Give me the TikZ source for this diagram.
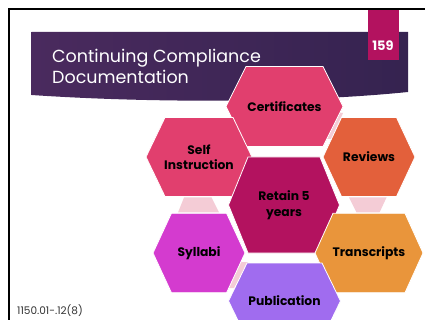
\documentclass[tikz,border=0pt]{standalone}
\usepackage{fontspec}
\setmainfont{Poppins}
\definecolor{cPink}{HTML}{E13F6E}
\definecolor{cMag}{HTML}{B3125F}
\definecolor{cRed}{HTML}{E3603B}
\definecolor{cOra}{HTML}{E9953B}
\definecolor{cVio}{HTML}{D43BCF}
\definecolor{cLav}{HTML}{A06CEF}
\definecolor{cPale}{HTML}{F4CCD6}
\definecolor{bnL}{HTML}{4A2A5E}
\definecolor{bnM}{HTML}{6A2C68}
\definecolor{bnR}{HTML}{352350}
\newcommand{\hexcell}[8]{%
  % #1 name, #2 cx, #3 cy, #4 half width, #5 half height, #6 inset, #7 colour, #8 text
  \fill[#7,draw=white,line width=0.8pt]
    ({#2-#4},#3) -- ({#2-#4+#6},{#3-#5}) -- ({#2+#4-#6},{#3-#5}) --
    ({#2+#4},#3) -- ({#2+#4-#6},{#3+#5}) -- ({#2-#4+#6},{#3+#5}) -- cycle;
  \node[hextext] (#1) at (#2,#3) {#8};
}
\tikzset{
  hextext/.style={font=\fontsize{12.3}{15.5}\selectfont\bfseries, text=black, align=center, inner sep=0pt},
  pale/.style={fill=cPale},
  titletext/.style={anchor=base west, text=white, inner sep=0pt, font=\fontsize{17.5}{21}\selectfont}
}
\begin{document}
\begin{tikzpicture}[x=1pt,y=-1pt]
\useasboundingbox (0,0) rectangle (425,320);
\fill[white] (0,0) rectangle (425,320);
% slide border
\draw[black,line width=2pt] (8.5,320) -- (8.5,9.5) -- (425,9.5);
% title banner
\shade[left color=bnL, middle color=bnM, right color=bnR]
  (31.5,32) -- (408,32) -- (408,92) .. controls (300,103) and (150,103) .. (31.5,95) -- cycle;
\node[titletext] (title1) at (52,63) {Continuing Compliance};
\node[titletext] (title2) at (52,84) {Documentation};
% page number
\fill[cMag] (367.5,10.5) rectangle (399,60);
\node[text=white, font=\fontsize{13}{15}\selectfont\bfseries, anchor=base] (pnum) at (383,51) {159};
% connectors
\fill[pale] (337,113) -- (343,113) -- (332,139) -- (326,139) -- cycle;
\fill[pale] (184,197.5) -- (211.5,197.5) -- (219,212.5) -- (178,212.5) -- cycle;
\fill[pale] (349,197.5) -- (386.5,197.5) -- (379.5,212.5) -- (356.5,212.5) -- cycle;
\fill[pale] (241,262) -- (248,262) -- (234,288) -- (228,288) -- cycle;
% hexagons
\hexcell{cert}{284.5}{106.5}{58.5}{40}{20}{cPink}{Certificates}
\hexcell{self}{199}{157}{53}{39.5}{19}{cPink}{Self\\Instruction}
\hexcell{ret}{284}{205}{55.5}{48}{19.5}{cMag}{Retain 5\\years}
\hexcell{rev}{369}{157}{46}{39.5}{18.5}{cRed}{Reviews}
\hexcell{syl}{199}{253}{46}{39.7}{18.4}{cVio}{Syllabi}
\hexcell{tra}{369}{253}{54}{39.7}{18}{cOra}{Transcripts}
\hexcell{pub}{284.5}{301}{56}{38}{18.5}{cLav}{Publication}
% footer
\node[anchor=base west, inner sep=0pt, font=\fontsize{10.5}{12}\selectfont, text=black!80] (foot) at (17,314.5) {1150.01-.12(8)};
\end{tikzpicture}
\end{document}
